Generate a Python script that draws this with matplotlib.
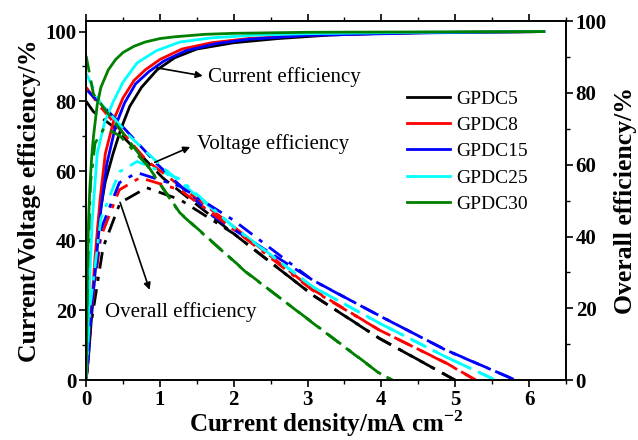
import matplotlib
matplotlib.use("Agg")
import matplotlib.pyplot as plt
from matplotlib.ticker import MultipleLocator

plt.rcParams['font.family'] = ['Liberation Serif', 'DejaVu Serif']
plt.rcParams['mathtext.fontset'] = 'custom'
plt.rcParams['mathtext.rm'] = 'Liberation Serif'
plt.rcParams['mathtext.bf'] = 'Liberation Serif:bold'

names = ["GPDC5", "GPDC8", "GPDC15", "GPDC25", "GPDC30"]
colors = ["black", "red", "blue", "cyan", "green"]

# current efficiency (solid, left axis)
ce_x = [
    [0, 0.03, 0.08, 0.17, 0.26, 0.365, 0.47, 0.59, 0.75, 0.96, 1.2, 1.5, 2, 2.6, 3.3, 4, 5, 6.2],
    [0, 0.03, 0.07, 0.12, 0.19, 0.26, 0.38, 0.5, 0.65, 0.8, 1.0, 1.3, 1.7, 2.2, 3, 4.5, 6.2],
    [0, 0.03, 0.07, 0.13, 0.2, 0.28, 0.4, 0.52, 0.67, 0.85, 1.05, 1.35, 1.75, 2.2, 3, 4.5, 6.2],
    [0, 0.02, 0.05, 0.08, 0.15, 0.25, 0.37, 0.5, 0.69, 0.95, 1.27, 1.7, 2.3, 3, 4.5, 6.2],
    [0, 0.01, 0.02, 0.035, 0.05, 0.075, 0.1, 0.15, 0.2, 0.3, 0.4, 0.5, 0.65, 0.8, 1.0, 1.2, 1.6, 2, 3, 6.2],
]
ce_y = [
    [0, 6, 20, 46, 57, 65, 72, 78.5, 84, 89, 92.5, 95, 96.8, 98, 99, 99.5, 99.8, 100],
    [0, 8, 20, 35, 52, 65, 75, 81, 86, 89, 92, 95, 96.8, 98, 99, 99.7, 100],
    [0, 7, 19, 33, 49, 62, 73, 79.5, 85, 88.5, 91.5, 94.5, 96.5, 97.8, 98.9, 99.6, 100],
    [0, 12, 30, 45, 65, 74, 80, 85.5, 91, 94.5, 97, 98.2, 99, 99.4, 99.8, 100],
    [0, 18, 35, 47, 55, 64, 70, 79, 84, 89, 92, 94, 95.8, 97, 98, 98.5, 99.2, 99.5, 99.8, 100],
]

# voltage efficiency (dashed, left axis)
ve_x = [
    [0, 0.1, 0.37, 1.04, 2, 3.07, 3.97, 5.0],
    [0, 0.19, 0.82, 2, 3.07, 3.97, 4.88, 5.28],
    [0.02, 0.37, 0.96, 1.72, 3.07, 3.97, 4.88, 5.82],
    [0, 0.19, 0.59, 1.04, 2, 3.07, 3.97, 4.88, 5.55],
    [0, 0.1, 0.46, 0.82, 1.27, 2.17, 3.07, 3.97, 4.15],
]
ve_y = [
    [80, 77, 72.7, 58, 42, 24.4, 12, 0],
    [84, 78.5, 63, 44, 26, 14.4, 4.9, 0],
    [83, 75.6, 62, 47, 28.7, 18.5, 8.6, 0],
    [88, 79.6, 70, 61, 44, 26.8, 16.4, 6.6, 0],
    [93, 82, 72, 62, 48, 31, 16.4, 2, 0],
]

# overall efficiency (dash-dot, right axis)
ee_x = [
    [0, 0.054, 0.23, 0.46, 0.82, 1.27, 2, 3.07, 3.97, 5.0],
    [0, 0.05, 0.2, 0.45, 0.73, 1.27, 2, 3.07, 3.97, 4.88, 5.28],
    [0, 0.05, 0.2, 0.45, 0.69, 1.27, 2, 3.07, 3.97, 4.88, 5.82],
    [0, 0.05, 0.2, 0.45, 0.69, 1.27, 2, 3.07, 3.97, 4.88, 5.55],
    [0, 0.02, 0.06, 0.12, 0.25, 0.46, 0.82, 1.27, 2.17, 3.07, 3.97, 4.15],
]
ee_y = [
    [0, 14, 37, 49.4, 53.6, 50.3, 40.8, 23.7, 11.7, 0],
    [0, 16, 40, 53, 56.4, 53, 42, 25, 14, 4.7, 0],
    [0, 17, 42, 55, 57.8, 54, 44.5, 27.8, 18, 8.3, 0],
    [0, 20, 45, 58, 60.9, 56, 42.6, 26, 15.9, 6.4, 0],
    [0, 30, 55, 66, 70.4, 68, 60, 46.5, 30, 16, 2, 0],
]

fig = plt.figure(figsize=(6.38, 4.4), dpi=100)
ax = fig.add_axes([0.135, 0.136, 0.752, 0.816])
ax2 = ax.twinx()

for i in range(5):
    ax.plot(ce_x[i], ce_y[i], color=colors[i], lw=2, label=names[i])
    ax.plot(ve_x[i], ve_y[i], color=colors[i], lw=2, dashes=(6, 3))
    ax2.plot(ee_x[i], ee_y[i], color=colors[i], lw=2, dashes=(6, 3, 1.5, 3))

ax.set_xlim(0, 6.5)
ax.set_ylim(0, 103)
ax2.set_ylim(0, 100)
ax.xaxis.set_major_locator(MultipleLocator(1))
ax.xaxis.set_minor_locator(MultipleLocator(0.5))
ax.yaxis.set_major_locator(MultipleLocator(20))
ax.yaxis.set_minor_locator(MultipleLocator(10))
ax2.yaxis.set_major_locator(MultipleLocator(20))
ax2.yaxis.set_minor_locator(MultipleLocator(10))

for a in (ax, ax2):
    a.tick_params(which='major', direction='out', length=5, width=1.2, labelsize=15, pad=2)
    a.tick_params(which='minor', direction='out', length=3, width=1.0)
    for lab in a.get_xticklabels() + a.get_yticklabels():
        lab.set_fontweight('bold')
    for s in a.spines.values():
        s.set_linewidth(1.2)
# faint little ticks along the top frame
ax.tick_params(axis='x', which='both', top=True)
ax.tick_params(axis='x', which='major', top=True, bottom=False, length=1.5, width=0.6,
               labelbottom=True)
ax.tick_params(axis='x', which='major', bottom=True, length=5, width=1.2)
ax.xaxis.set_tick_params(which='both', top=True)

ax.set_xlabel("Current density/mA cm$^{\\mathbf{-2}}$", fontsize=18, fontweight='bold', labelpad=-1)
ax.set_ylabel("Current/Voltage efficiency/%", fontsize=18.5, fontweight='bold', labelpad=3)
ax2.set_ylabel("Overall efficiency/%", fontsize=18.5, fontweight='bold', labelpad=5)

ax.legend(loc='upper left', bbox_to_anchor=(0.633, 0.857), frameon=False, fontsize=14,
          handlelength=2.2, labelspacing=0.45, handletextpad=0.3)

arrow = dict(arrowstyle='-|>', color='black', lw=1.2, shrinkA=0, shrinkB=0)
ax.annotate("", xy=(1.58, 87.3), xytext=(0.96, 89.6), arrowprops=arrow)
ax.text(1.65, 87, "Current efficiency", fontsize=15, va='center', ha='left')
ax.annotate("", xy=(1.41, 66.9), xytext=(0.93, 62.5), arrowprops=arrow)
ax.text(1.5, 67.7, "Voltage efficiency", fontsize=15, va='center', ha='left')
ax.annotate("", xy=(0.86, 25.9), xytext=(0.46, 51), arrowprops=arrow)
ax.text(0.26, 19.6, "Overall efficiency", fontsize=15, va='center', ha='left')

fig.savefig("out.png", dpi=100)
